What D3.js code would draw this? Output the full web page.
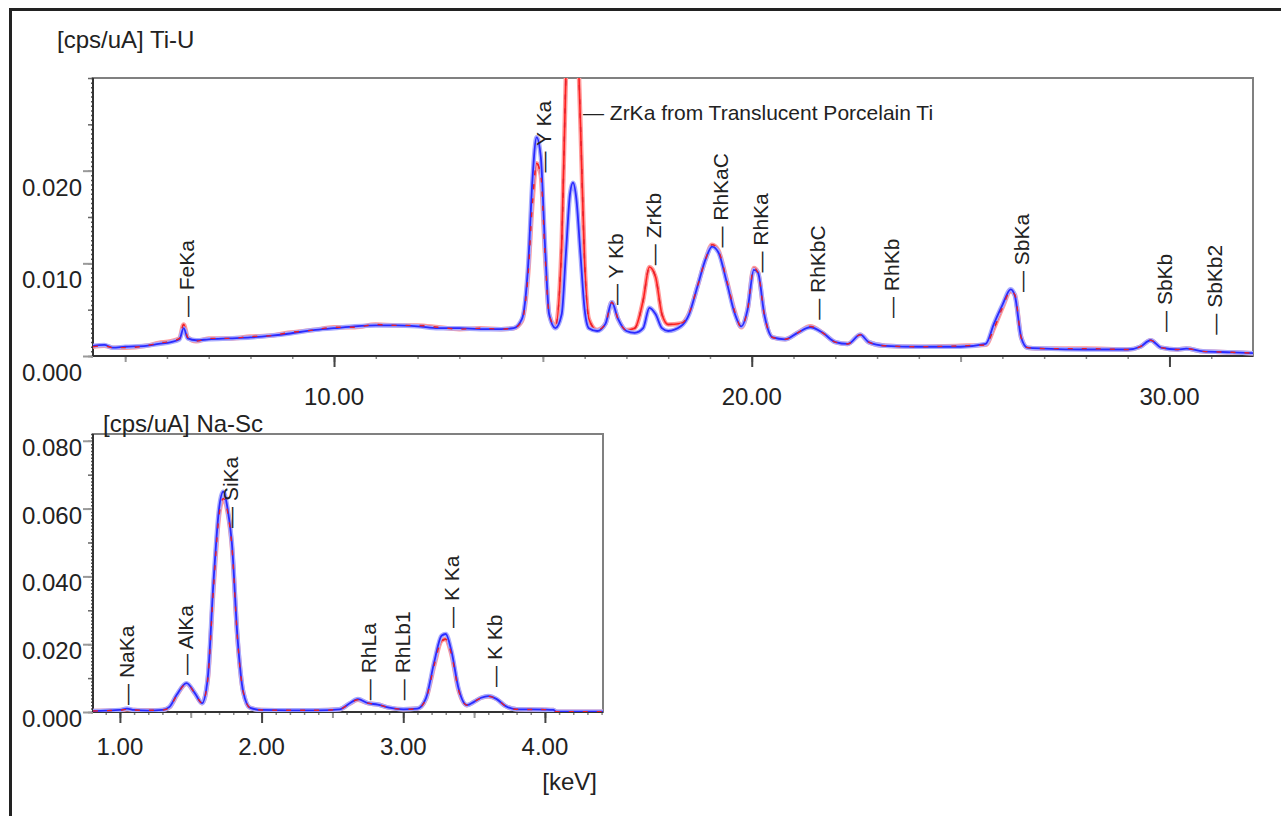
<!DOCTYPE html>
<html>
<head>
<meta charset="utf-8">
<script src="https://cdn.jsdelivr.net/npm/d3@7"></script>
<style>
  body { margin: 0; background: #fff; }
  svg text { font-family: "Liberation Sans", Arial, sans-serif; fill: #222; }
</style>
</head>
<body>
<svg id="chart"></svg>
<script>
// Ti-U spectrum (upper panel), keV vs cps/uA
const topEnergy = [4.23, 4.5, 4.7, 5.0, 5.5, 5.8, 6.1, 6.3, 6.4, 6.5, 6.7, 7.0, 7.5, 8.0, 8.5, 8.9, 9.5, 10.0, 10.5, 11.0,
  11.5, 12.0, 12.5, 13.0, 13.5, 14.0, 14.3, 14.5, 14.65, 14.75, 14.85, 14.95, 15.05, 15.15, 15.3, 15.45, 15.55, 15.65, 15.72, 15.8,
  15.9, 16.0, 16.1, 16.3, 16.5, 16.65, 16.8, 17.0, 17.2, 17.4, 17.55, 17.7, 17.85, 18.0, 18.3, 18.5, 18.7, 18.9, 19.05, 19.2,
  19.4, 19.6, 19.75, 19.9, 20.05, 20.15, 20.3, 20.5, 20.8, 21.1, 21.4, 21.7, 22.0, 22.3, 22.6, 22.8, 23.2, 24.0, 25.0, 25.6,
  25.8, 26.0, 26.2, 26.3, 26.45, 26.6, 27.0, 28.0, 29.0, 29.3, 29.55, 29.8, 30.2, 30.4, 30.8, 31.5, 32.0];
const topBlue = [.0011, .0012, .0009, .0010, .0011, .0013, .0015, .0018, .0030, .0019, .0017, .0018, .0019, .0020, .0022, .0024, .0028, .0030, .0032, .0033,
  .0033, .0032, .0030, .0030, .0029, .0029, .0030, .0040, .0100, .0190, .0236, .0215, .0120, .0045, .0030, .0045, .0110, .0175, .0187, .0170,
  .0110, .0050, .0030, .0027, .0035, .0058, .0040, .0027, .0025, .0030, .0052, .0045, .0030, .0027, .0032, .0045, .0075, .0105, .0118, .0112,
  .0080, .0045, .0032, .0050, .0093, .0090, .0045, .0020, .0018, .0025, .0031, .0025, .0015, .0013, .0023, .0015, .0011, .0010, .0010, .0013,
  .0035, .0055, .0072, .0065, .0020, .0009, .0008, .0007, .0007, .0010, .0017, .0009, .0007, .0008, .0005, .0004, .0003];
const topRed = [.0010, .0011, .0009, .0009, .0011, .0014, .0016, .0019, .0034, .0020, .0016, .0019, .0019, .0021, .0022, .0025, .0028, .0031, .0031, .0034,
  .0033, .0033, .0031, .0029, .0030, .0029, .0030, .0038, .0090, .0165, .0208, .0195, .0110, .0045, .0032, .0120, .0300, .0400, .0420, .0380,
  .0250, .0100, .0040, .0028, .0035, .0058, .0040, .0028, .0030, .0060, .0096, .0085, .0045, .0034, .0035, .0046, .0075, .0105, .0120, .0114,
  .0082, .0047, .0031, .0050, .0095, .0090, .0045, .0020, .0018, .0025, .0032, .0025, .0015, .0013, .0023, .0015, .0011, .0010, .0011, .0012,
  .0030, .0052, .0070, .0066, .0020, .0009, .0008, .0008, .0007, .0010, .0017, .0009, .0007, .0008, .0005, .0004, .0003];

// Na-Sc spectrum (lower panel)
const botEnergy = [0.81, 0.9, 1.0, 1.05, 1.1, 1.2, 1.3, 1.35, 1.4, 1.47, 1.53, 1.58, 1.62, 1.66, 1.7, 1.73, 1.76, 1.79, 1.83, 1.87,
  1.92, 2.0, 2.2, 2.4, 2.55, 2.62, 2.68, 2.75, 2.82, 2.9, 3.0, 3.1, 3.16, 3.22, 3.27, 3.3, 3.34, 3.39, 3.45, 3.5,
  3.55, 3.6, 3.66, 3.72, 3.8, 4.0, 4.06, 4.08, 4.41];
const botBlue = [.0003, .0004, .0006, .0010, .0006, .0004, .0006, .0015, .0050, .0085, .0055, .0026, .0100, .0380, .0600, .0650, .0600, .0500, .0220, .0060,
  .0012, .0006, .0005, .0005, .0008, .0025, .0038, .0026, .0022, .0013, .0008, .0010, .0040, .0150, .0225, .0230, .0180, .0070, .0020, .0030,
  .0042, .0047, .0038, .0018, .0008, .0007, .0006, .0001, .0001];
const botRed = [.0003, .0004, .0005, .0008, .0006, .0005, .0006, .0014, .0048, .0083, .0054, .0026, .0095, .0360, .0580, .0630, .0590, .0490, .0215, .0060,
  .0012, .0006, .0005, .0005, .0008, .0024, .0036, .0026, .0022, .0013, .0008, .0010, .0038, .0140, .0210, .0215, .0170, .0065, .0020, .0030,
  .0042, .0046, .0038, .0018, .0008, .0007, .0006, .0001, .0001];

// peak markers: name, energy, height of marker foot
const topPeakNames = ["FeKa", "Y Ka", "Y Kb", "ZrKb", "RhKaC", "RhKa", "RhKbC", "RhKb", "SbKa", "SbKb", "SbKb2"];
const topPeakKeV = [6.50, 15.05, 16.77, 17.68, 19.29, 20.25, 21.61, 23.38, 26.49, 29.92, 31.11];
const topPeakAt = [.0042, .0198, .0055, .0098, .0117, .0090, .0039, .0041, .0069, .0026, .0023];
const botPeakNames = ["NaKa", "AlKa", "SiKa", "RhLa", "RhLb1", "K Ka", "K Kb"];
const botPeakKeV = [1.057, 1.474, 1.791, 2.765, 3.005, 3.351, 3.654];
const botPeakAt = [.0021, .0109, .0543, .0035, .0035, .0248, .0074];
const zrNote = { text: "ZrKa from Translucent Porcelain Ti", keV: 15.96, at: .02546 };

const topXTicks = [10, 20, 30];
const topYTicks = [0, 0.010, 0.020];
const botXTicks = [1, 2, 3, 4];
const botYTicks = [0, 0.020, 0.040, 0.060, 0.080];

const svg = d3.select('#chart').attr('width', 1281).attr('height', 816);

// outer frame (top and left edge only)
svg.append('line').attr('x1', 9).attr('x2', 1281).attr('y1', 9.5).attr('y2', 9.5)
  .attr('stroke', '#222').attr('stroke-width', 3);
svg.append('line').attr('x1', 10.5).attr('x2', 10.5).attr('y1', 8).attr('y2', 816)
  .attr('stroke', '#222').attr('stroke-width', 3);

function panel(opt) {
  const x = d3.scaleLinear().domain(opt.xDomain).range([opt.left, opt.right]);
  const y = d3.scaleLinear().domain(opt.yDomain).range([opt.bottom, opt.top]);
  const g = svg.append('g');
  const clipId = 'clip' + opt.id;

  g.append('clipPath').attr('id', clipId).append('rect')
    .attr('x', opt.left).attr('y', opt.top)
    .attr('width', opt.right - opt.left).attr('height', opt.bottom - opt.top);

  // frame
  g.append('rect').attr('x', opt.left).attr('y', opt.top)
    .attr('width', opt.right - opt.left).attr('height', opt.bottom - opt.top)
    .attr('fill', 'none').attr('stroke', '#808080').attr('stroke-width', 2);

  // x axis ticks at three levels
  const xa = g.append('g').attr('transform', `translate(0,${opt.bottom})`);
  const tinyX = d3.range(Math.ceil(opt.xDomain[0] / opt.xMinor) * opt.xMinor, opt.xDomain[1], opt.xMinor);
  xa.append('g').call(d3.axisBottom(x).tickValues(tinyX).tickSize(3).tickFormat(''))
    .call(s => s.selectAll('line').attr('stroke', '#888').attr('stroke-width', 1.5));
  const midX = tinyX.filter(v => Math.abs(v / opt.xMid - Math.round(v / opt.xMid)) < 1e-6);
  xa.append('g').call(d3.axisBottom(x).tickValues(midX).tickSize(6).tickFormat(''))
    .call(s => s.selectAll('line').attr('stroke', '#999').attr('stroke-width', 2));
  xa.append('g').call(d3.axisBottom(x).tickValues(opt.xTicks).tickSize(11).tickFormat(''))
    .call(s => s.selectAll('line').attr('stroke', '#444').attr('stroke-width', 2));
  xa.selectAll('.domain').remove();
  g.selectAll('.x-label').data(opt.xTicks).enter().append('text')
    .attr('x', d => x(d)).attr('y', opt.xLabelY)
    .attr('text-anchor', 'middle').attr('font-size', 24)
    .text(d => d3.format('.2f')(d));

  // y axis ticks
  const ya = g.append('g').attr('transform', `translate(${opt.left},0)`);
  const tinyY = d3.range(0, opt.yDomain[1] + 1e-9, opt.yTiny);
  ya.append('g').call(d3.axisLeft(y).tickValues(tinyY).tickSize(2).tickFormat(''))
    .call(s => s.selectAll('line').attr('stroke', '#555').attr('stroke-width', 1.5));
  const midY = d3.range(0, opt.yDomain[1] + 1e-9, opt.yMid);
  ya.append('g').call(d3.axisLeft(y).tickValues(midY).tickSize(5).tickFormat(''))
    .call(s => s.selectAll('line').attr('stroke', '#666').attr('stroke-width', 1.5));
  ya.append('g').call(d3.axisLeft(y).tickValues(opt.yTicks).tickSize(10).tickFormat(''))
    .call(s => s.selectAll('line').attr('stroke', '#999').attr('stroke-width', 2));
  ya.selectAll('.domain').remove();
  g.selectAll('.y-label').data(opt.yTicks).enter().append('text')
    .attr('x', 82).attr('y', d => y(d) + opt.yLabelDy)
    .attr('text-anchor', 'end').attr('font-size', 24)
    .text(d => d3.format('.3f')(d));

  // axis lines
  g.append('line').attr('x1', opt.left).attr('x2', opt.right).attr('y1', opt.bottom).attr('y2', opt.bottom)
    .attr('stroke', '#333').attr('stroke-width', 2);
  g.append('line').attr('x1', opt.left).attr('x2', opt.left).attr('y1', opt.top).attr('y2', opt.bottom)
    .attr('stroke', '#333').attr('stroke-width', 2);

  // spectra
  const line = d3.line().x(d => x(d[0])).y(d => y(d[1])).curve(d3.curveMonotoneX);
  const red = opt.energy.map((e, i) => [e, opt.red[i]]);
  const blue = opt.energy.map((e, i) => [e, opt.blue[i]]);
  const traces = g.append('g').attr('clip-path', `url(#${clipId})`);
  traces.append('path').attr('d', line(red)).attr('fill', 'none')
    .attr('stroke', '#ff9a9a').attr('stroke-width', 4.5).attr('stroke-linejoin', 'round');
  traces.append('path').attr('d', line(red)).attr('fill', 'none')
    .attr('stroke', '#ff2020').attr('stroke-width', 1.6);
  traces.append('path').attr('d', line(blue)).attr('fill', 'none')
    .attr('stroke', '#a8aaff').attr('stroke-width', 4.5).attr('stroke-linejoin', 'round');
  traces.append('path').attr('d', line(blue)).attr('fill', 'none')
    .attr('stroke', '#2a2aff').attr('stroke-width', 1.8);
  traces.append('path').attr('d', line(red)).attr('fill', 'none')
    .attr('stroke', '#e8202a').attr('stroke-width', 1.4).attr('stroke-dasharray', '5,9');

  // peak markers
  g.selectAll('.peak').data(opt.peakNames).enter().append('text')
    .attr('transform', (d, i) => `translate(${x(opt.peakKeV[i])},${y(opt.peakAt[i])}) rotate(-90)`)
    .attr('dy', '0.3em').attr('font-size', 21)
    .text(d => '\u2014 ' + d);

  // panel title
  g.append('text').attr('x', opt.titleX).attr('y', opt.titleY)
    .attr('font-size', 24).text(opt.title);

  return { x, y, g };
}

const topPanel = panel({
  id: 'top', left: 93, right: 1253, top: 78, bottom: 356,
  xDomain: [4.23, 32.0], yDomain: [0, 0.030],
  xTicks: topXTicks, xMinor: 1, xMid: 5, xLabelY: 405,
  yTicks: topYTicks, yMid: 0.005, yTiny: 0.0005, yLabelDy: 25,
  energy: topEnergy, blue: topBlue, red: topRed,
  peakNames: topPeakNames, peakKeV: topPeakKeV, peakAt: topPeakAt,
  title: '[cps/uA] Ti-U', titleX: 57, titleY: 48
});

topPanel.g.append('text')
  .attr('x', topPanel.x(zrNote.keV)).attr('y', topPanel.y(zrNote.at))
  .attr('font-size', 21).text('\u2014 ' + zrNote.text);

panel({
  id: 'bot', left: 93, right: 603, top: 434, bottom: 712,
  xDomain: [0.81, 4.41], yDomain: [0, 0.082],
  xTicks: botXTicks, xMinor: 0.1, xMid: 0.5, xLabelY: 755,
  yTicks: botYTicks, yMid: 0.010, yTiny: 0.001, yLabelDy: 15,
  energy: botEnergy, blue: botBlue, red: botRed,
  peakNames: botPeakNames, peakKeV: botPeakKeV, peakAt: botPeakAt,
  title: '[cps/uA] Na-Sc', titleX: 103, titleY: 432
});

svg.append('text').attr('x', 597).attr('y', 790)
  .attr('text-anchor', 'end').attr('font-size', 24).text('[keV]');
</script>
</body>
</html>
